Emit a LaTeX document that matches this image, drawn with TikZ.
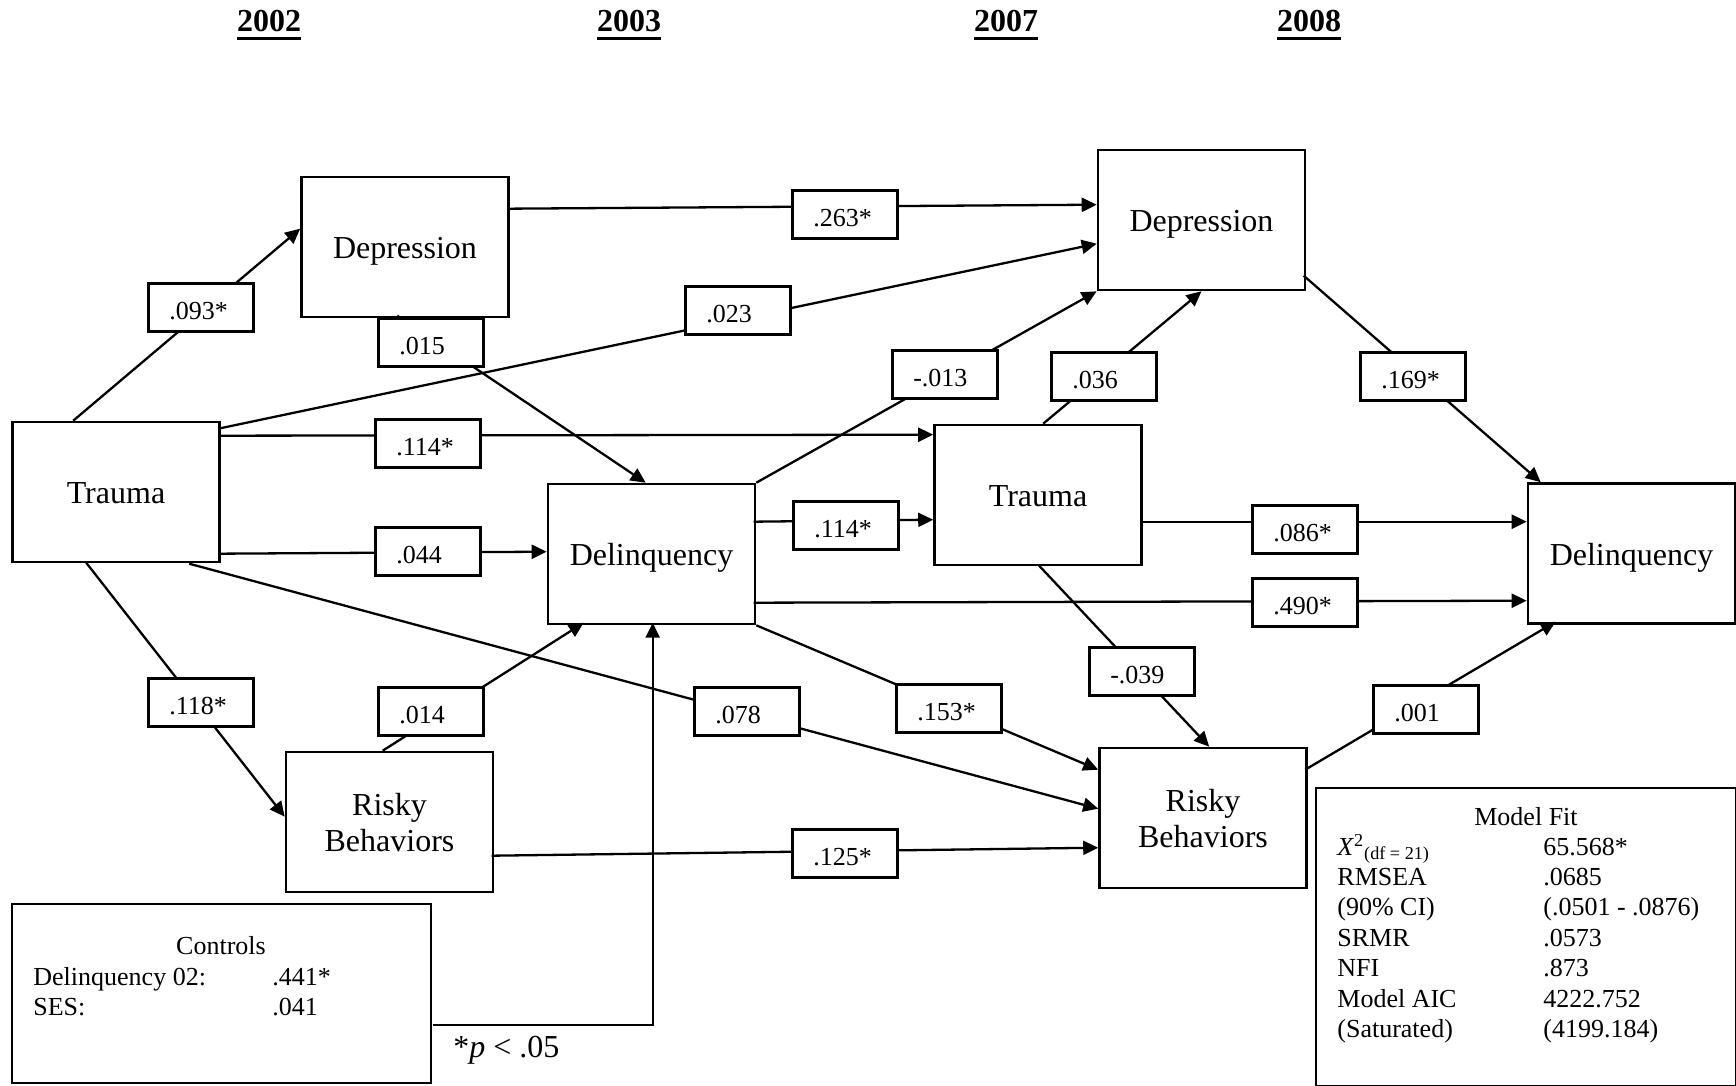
\documentclass[tikz,border=0pt]{standalone}
\usepackage{fontspec}
\setmainfont{Liberation Serif}
\usetikzlibrary{arrows.meta,calc}
% bold year heading with a heavy underline
\newcommand\yr[1]{\setbox0=\hbox{\bfseries #1}\rlap{\rule[-4pt]{\wd0}{1.35pt}}\box0}
\begin{document}
\begin{tikzpicture}[x=0.5pt,y=-0.5pt,
  var/.style={draw, line width=1.3pt, minimum width=103.5pt, minimum height=70pt,
    inner sep=0pt, align=center, font=\fontsize{16}{18.3}\selectfont,
    text height=11.5pt, text depth=0pt},
  twoline/.style={text height=29.8pt, text depth=0pt},
  coef/.style={draw, fill=white, line width=1.3pt, anchor=north west,
    inner xsep=10.5pt, inner ysep=0pt, text width=31.5pt, align=left,
    text height=18pt, text depth=6pt, font=\fontsize{13}{15}\selectfont},
  panel/.style={draw, line width=1.3pt, inner sep=0pt},
  small/.style={inner sep=0pt, font=\fontsize{13}{15.2}\selectfont},
  link/.style={line width=1.15pt, -{Triangle[length=7.5pt,width=7pt]}}]
\useasboundingbox (0,0) rectangle (1736,1086);

% wave headings
\node[anchor=base, inner sep=0pt, font=\fontsize{16}{18}\selectfont] (y02) at (269,32) {\yr{2002}};
\node[anchor=base, inner sep=0pt, font=\fontsize{16}{18}\selectfont] (y03) at (629,32) {\yr{2003}};
\node[anchor=base, inner sep=0pt, font=\fontsize{16}{18}\selectfont] (y07) at (1006,32) {\yr{2007}};
\node[anchor=base, inner sep=0pt, font=\fontsize{16}{18}\selectfont] (y08) at (1309,32) {\yr{2008}};

% observed variables
\node[var] (t02) at (116,492) {Trauma};
\node[var] (dp02) at (405,247) {Depression};
\node[var] (dq03) at (651.5,554) {Delinquency};
\node[var,twoline] (rb03) at (389.5,822) {Risky\\Behaviors};
\node[var] (dp07) at (1201.5,220) {Depression};
\node[var] (t07) at (1038,495) {Trauma};
\node[var] (dq08) at (1631.5,553.5) {Delinquency};
\node[var,twoline] (rb07) at (1203,818) {Risky\\Behaviors};

% side panels
\node[panel, minimum width=209.5pt, minimum height=89.5pt] (ctrl) at (221.5,993.5) {};
\node[panel, minimum width=210pt, minimum height=149pt] (fit) at (1526,937) {};

% paths
\draw[link] ($(t02.north west)+(62,0)$) -- ($(dp02.north west)+(0,53)$);
\draw[link] ($(dp02.north west)+(207,33)$) -- ($(dp07.north west)+(0,56)$);
\draw[link] ($(t02.north west)+(207,8)$) -- ($(dp07.north west)+(0,95)$);
\draw[link] ($(dp02.north west)+(97,140)$) -- ($(dq03.north west)+(99,0)$);
\draw[link] ($(t02.north west)+(207,15)$) -- ($(t07.north west)+(0,11)$);
\draw[link] ($(t02.north west)+(207,133)$) -- ($(dq03.north west)+(0,69)$);
\draw[link] ($(t02.north west)+(178,143)$) -- ($(rb07.north west)+(0,62)$);
\draw[link] ($(t02.north west)+(75,142)$) -- ($(rb03.north west)+(0,66)$);
\draw[link] ($(rb03.north west)+(98,0)$) -- ($(dq03.north west)+(37,140)$);
\draw[link] ($(rb03.north west)+(207,105)$) -- ($(rb07.north west)+(0,101)$);
\draw[link] (dq03.north east) -- (dp07.south west);
\draw[link] ($(dq03.north west)+(207,39)$) -- ($(t07.north west)+(0,96)$);
\draw[link] ($(t07.north west)+(110,0)$) -- (dp07.south);
\draw[link] ($(dp07.north west)+(207,127)$) -- ($(dq08.north west)+(14,0)$);
\draw[link] ($(t07.north west)+(207,98)$) -- ($(dq08.north west)+(0,39.5)$);
\draw[link] ($(dq03.north west)+(207,120)$) -- ($(dq08.north west)+(0,118.5)$);
\draw[link] (dq03.south east) -- ($(rb07.north west)+(0,23)$);
\draw[link] ($(t07.north west)+(105,141)$) -- ($(rb07.north west)+(111,0)$);
\draw[link] ($(rb07.north west)+(207,23)$) -- ($(dq08.north west)+(29,139.5)$);
\draw[link] ($(ctrl.north west)+(422,122)$) -| ($(dq03.north west)+(106,140)$);

% path coefficients
\node[coef] (c1) at (147,282) {.093*};
\node[coef] (c2) at (791,189) {.263*};
\node[coef] (c3) at (684,285) {.023};
\node[coef] (c4) at (377,317) {.015};
\node[coef] (c5) at (374,418) {.114*};
\node[coef] (c6) at (374,526) {.044};
\node[coef] (c7) at (693,686) {.078};
\node[coef] (c8) at (147,677) {.118*};
\node[coef] (c9) at (377,686) {.014};
\node[coef] (c10) at (791,828) {.125*};
\node[coef] (c11) at (891,349) {-.013};
\node[coef] (c12) at (792,500) {.114*};
\node[coef] (c13) at (1050,351) {.036};
\node[coef] (c14) at (1359,351) {.169*};
\node[coef] (c15) at (1251,504) {.086*};
\node[coef] (c16) at (1251,577) {.490*};
\node[coef] (c17) at (895,683) {.153*};
\node[coef] (c18) at (1088,646) {-.039};
\node[coef] (c19) at (1372,684) {.001};

% controls panel
\node[small, anchor=base] (ctrlhead) at (221,954) {Controls};
\node[small, anchor=base west] (ctrltab) at (33,985) {\begin{tabular}[t]{@{}p{119.5pt}@{}l@{}}
Delinquency 02: & .441*\\
SES: & .041
\end{tabular}};

% significance note
\node[anchor=base west, inner sep=0pt, font=\fontsize{16}{18}\selectfont] (note) at (453,1057) {*\textit{p} < .05};

% model fit panel
\node[small, anchor=base] (fithead) at (1526,825) {Model Fit};
\node[small, anchor=base west] (fittab) at (1337,855) {\begin{tabular}[t]{@{}p{103pt}@{}l@{}}
\textit{X}\textsuperscript{2}\textsubscript{(df = 21)} & 65.568*\\
RMSEA & .0685\\
(90\% CI) & (.0501 - .0876)\\
SRMR & .0573\\
NFI & .873\\
Model AIC & 4222.752\\
(Saturated) & (4199.184)
\end{tabular}};
\end{tikzpicture}
\end{document}
